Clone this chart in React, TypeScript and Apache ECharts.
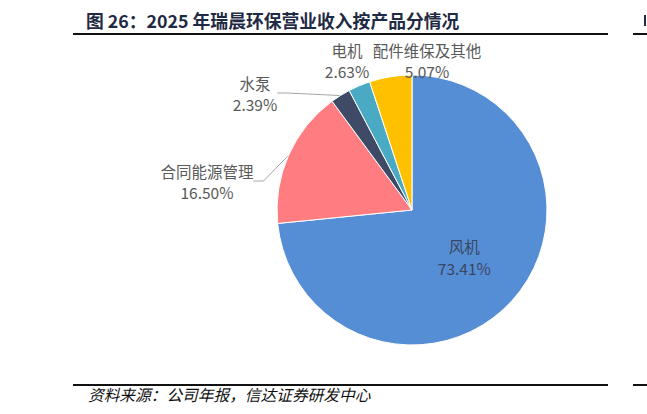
import React, { useEffect, useRef } from "react";
import * as echarts from "echarts";

const categories = ["风机", "合同能源管理", "水泵", "电机", "配件维保及其他"];
const shares = [73.41, 16.5, 2.39, 2.63, 5.07];
const colors = ["#568ED6", "#FF7C80", "#3E4A66", "#4AAAC4", "#FFC000"];

const titleText = "图 26：2025 年瑞晨环保营业收入按产品分情况";
const sourceText = "资料来源：公司年报，信达证券研发中心";

export default function App() {
  const ref = useRef<HTMLDivElement>(null);
  useEffect(() => {
    if (!ref.current) return;
    const chart = echarts.init(ref.current, null, { renderer: "svg" });
    const labelCenters: Record<string, [number, number]> = {
      合同能源管理: [207, 181],
      水泵: [255, 93],
      电机: [347, 60],
      配件维保及其他: [427, 60],
    };
    chart.setOption({
      animation: false,
      backgroundColor: "#ffffff",
      graphic: [
        {
          type: "text",
          left: 86,
          top: 11,
          style: {
            text: titleText,
            font: "bold 17.8px 'Noto Sans CJK SC'",
            fill: "#1f2a44",
          },
        },
        { type: "rect", shape: { x: 73, y: 33, width: 535, height: 2 }, style: { fill: "#111" } },
        { type: "rect", shape: { x: 633, y: 33, width: 14, height: 2 }, style: { fill: "#111" } },
        { type: "rect", shape: { x: 644, y: 15, width: 2, height: 11 }, style: { fill: "#1f2a44" } },
        { type: "rect", shape: { x: 73, y: 384, width: 535, height: 2 }, style: { fill: "#111" } },
        { type: "rect", shape: { x: 633, y: 384, width: 14, height: 2 }, style: { fill: "#111" } },
        {
          type: "text",
          left: 88,
          top: 387,
          style: {
            text: sourceText,
            font: "italic 15.7px 'Noto Sans CJK SC'",
            fill: "#111",
          },
        },
      ],
      series: [
        {
          type: "pie",
          center: [412, 210],
          radius: 135,
          startAngle: 90,
          clockwise: true,
          avoidLabelOverlap: false,
          itemStyle: { borderColor: "#ffffff", borderWidth: 1 },
          label: {
            show: true,
            formatter: (p: any) => `${p.name}\n${p.value.toFixed(2)}%`,
            fontFamily: "'Noto Sans CJK SC'",
            fontSize: 15.5,
            lineHeight: 21,
            color: "#595959",
            align: "center",
          },
          labelLine: {
            show: true,
            lineStyle: { color: "#a6a6a6", width: 1 },
            length: 10,
            length2: 10,
          },
          labelLayout: (params: any) => {
            const c = labelCenters[params.text ? params.text.split("\n")[0] : ""];
            if (!c) return {};
            return { x: c[0], y: c[1], align: "center", verticalAlign: "middle" };
          },
          data: categories.map((name, i) => {
            const item: any = {
              name,
              value: shares[i],
              itemStyle: { color: colors[i] },
            };
            if (i === 0) {
              item.label = { position: "inside", color: "#3a4660", lineHeight: 22 };
              item.labelLine = { show: false };
            }
            if (i === 3 || i === 4) {
              item.labelLine = { show: false };
            }
            return item;
          }),
        },
      ],
    });
    return () => chart.dispose();
  }, []);
  return (
    <div
      ref={ref}
      style={{ position: "fixed", left: 0, top: 0, width: 647, height: 414 }}
    />
  );
}
